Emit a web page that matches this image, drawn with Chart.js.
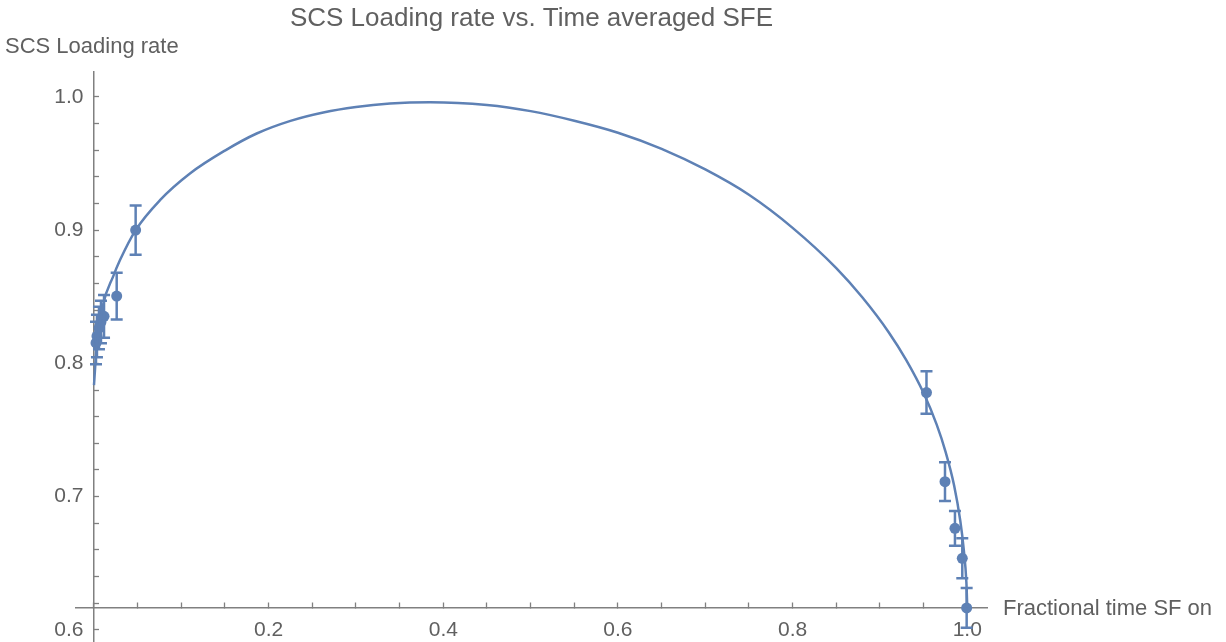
<!DOCTYPE html>
<html>
<head>
<meta charset="utf-8">
<script src="https://cdn.jsdelivr.net/npm/chart.js@4"></script>
<style>
  html, body { margin: 0; padding: 0; background: #fff; }
  #wrap { width: 1226px; height: 642px; }
</style>
</head>
<body>
<div id="wrap"><canvas id="chart"></canvas></div>
<script>
// fitted curve
const curveX = [0, 0.0031, 0.0106, 0.0221, 0.0298, 0.0477, 0.0756, 0.1099, 0.15, 0.1863, 0.225, 0.2626, 0.30, 0.3389, 0.385,
    0.45, 0.50, 0.55, 0.60, 0.65, 0.70, 0.75, 0.80, 0.85, 0.88, 0.91, 0.93, 0.95, 0.965, 0.975, 0.985, 0.992, 0.996, 0.999, 1.0];
const curveY = [0.7837, 0.8125, 0.8445, 0.8655, 0.8775, 0.900, 0.9225, 0.9425, 0.9597, 0.9725, 0.9820, 0.9883, 0.9924, 0.995, 0.996,
    0.9939, 0.9893, 0.9821, 0.9731, 0.9610, 0.9455, 0.9265, 0.9017, 0.8715, 0.8494, 0.8234, 0.8026, 0.7777, 0.7540, 0.7340, 0.7082, 0.6819, 0.6602, 0.6356, 0.617];

// measured points with error bars
const ptX = [0.0023, 0.0034, 0.0057, 0.008, 0.0115, 0.026, 0.0477, 0.9533, 0.9745, 0.9859, 0.9943, 0.9993];
const ptY = [0.8153, 0.8205, 0.8265, 0.831, 0.8353, 0.8505, 0.900, 0.7781, 0.7112, 0.6762, 0.6537, 0.6165];
const ptErr = [0.016, 0.016, 0.016, 0.016, 0.016, 0.0175, 0.0185, 0.016, 0.0145, 0.013, 0.015, 0.015];

const xTickValues = [0.2, 0.4, 0.6, 0.8, 1.0];
const xTickLabels = ['0.2', '0.4', '0.6', '0.8', '1.0'];
const yTickValues = [0.6, 0.7, 0.8, 0.9, 1.0];
const yTickLabels = ['0.6', '0.7', '0.8', '0.9', '1.0'];

const xCross = 0.6165;   // where the x axis crosses the y axis
const blue = '#5E81B5';
const grey = '#808080';
const textCol = '#606060';

Chart.defaults.font.family = '"Liberation Sans", Arial, sans-serif';
Chart.defaults.color = textCol;

const curve = curveX.map((x, i) => ({x: x, y: curveY[i]}));
const points = ptX.map((x, i) => ({x: x, y: ptY[i]}));
const bars = [];
ptX.forEach((x, i) => {
    bars.push({x: x, y: ptY[i] - ptErr[i]});
    bars.push({x: x, y: ptY[i] + ptErr[i]});
    bars.push({x: x, y: null});
});

function minorTicks(scale, step) {
    const vals = [scale.min];
    const n = Math.floor(scale.max / step + 1e-9);
    for (let k = Math.ceil(scale.min / step); k <= n; k++) {
        if (k * step > scale.min) vals.push(Math.round(k * step * 1000) / 1000);
    }
    vals.push(scale.max);
    scale.ticks = vals.map(v => ({value: v}));
}

function tickLabel(values, labels, pad) {
    return function (value, i, ticks) {
        if (i === 0 || i === ticks.length - 1) return null;
        const k = values.findIndex(t => Math.abs(t - value) < 1e-6);
        return k >= 0 ? labels[k] + pad : '';
    };
}

function noPad(scale) {
    scale.paddingLeft = 0;
    scale.paddingRight = 0;
    scale.paddingTop = 0;
    scale.paddingBottom = 0;
}

// axis names the way Mathematica places them
const axisNames = {
    id: 'axisNames',
    afterDraw(chart) {
        const {ctx, chartArea, scales} = chart;
        ctx.save();
        ctx.fillStyle = textCol;
        ctx.font = '22px "Liberation Sans", Arial, sans-serif';
        ctx.textBaseline = 'middle';
        ctx.textAlign = 'left';
        ctx.fillText('SCS Loading rate', 5, chartArea.top - 25);
        ctx.fillText('Fractional time SF on', scales.x.right + 16, scales.y.getPixelForValue(xCross) + 1);
        ctx.restore();
    }
};

new Chart(document.getElementById('chart'), {
    type: 'scatter',
    data: {
        datasets: [
            {
                data: curve,
                showLine: true,
                borderColor: blue,
                borderWidth: 2.5,
                pointRadius: 0,
                cubicInterpolationMode: 'monotone'
            },
            {
                data: bars,
                showLine: true,
                spanGaps: false,
                borderColor: blue,
                borderWidth: 2.5,
                pointStyle: 'line',
                pointRadius: 6,
                pointBorderWidth: 2.5,
                pointBorderColor: blue
            },
            {
                data: points,
                backgroundColor: blue,
                borderColor: blue,
                pointRadius: 5.5,
                borderWidth: 0
            }
        ]
    },
    options: {
        responsive: true,
        maintainAspectRatio: false,
        animation: false,
        devicePixelRatio: 1,
        layout: {autoPadding: false, padding: {left: 76, right: 239, top: 0, bottom: 0}},
        plugins: {
            legend: {display: false},
            tooltip: {enabled: false},
            title: {
                display: true,
                text: 'SCS Loading rate vs. Time averaged SFE',
                fullSize: false,
                color: textCol,
                font: {size: 26, weight: 'normal'},
                padding: {top: 3, bottom: 38}
            }
        },
        scales: {
            x: {
                type: 'linear',
                min: -0.0206,
                max: 1.0226,
                position: {y: xCross},
                afterBuildTicks: s => minorTicks(s, 0.05),
                afterFit: noPad,
                grid: {drawOnChartArea: false, drawTicks: true, tickLength: -6, tickColor: grey, tickWidth: 1.3},
                border: {display: true, color: grey, width: 1.5},
                ticks: {
                    autoSkip: false,
                    maxRotation: 0,
                    padding: 16,
                    font: {size: 21},
                    color: textCol,
                    callback: tickLabel(xTickValues, xTickLabels, '')
                }
            },
            y: {
                type: 'linear',
                min: 0.5909,
                max: 1.0185,
                position: {x: 0},
                afterBuildTicks: s => minorTicks(s, 0.02),
                afterFit: noPad,
                grid: {drawOnChartArea: false, drawTicks: true, tickLength: -6, tickColor: grey, tickWidth: 1.3},
                border: {display: true, color: grey, width: 1.5},
                ticks: {
                    autoSkip: false,
                    font: {size: 21},
                    color: textCol,
                    callback: tickLabel(yTickValues, yTickLabels, '\u2002')
                }
            }
        }
    },
    plugins: [axisNames]
});
</script>
</body>
</html>
